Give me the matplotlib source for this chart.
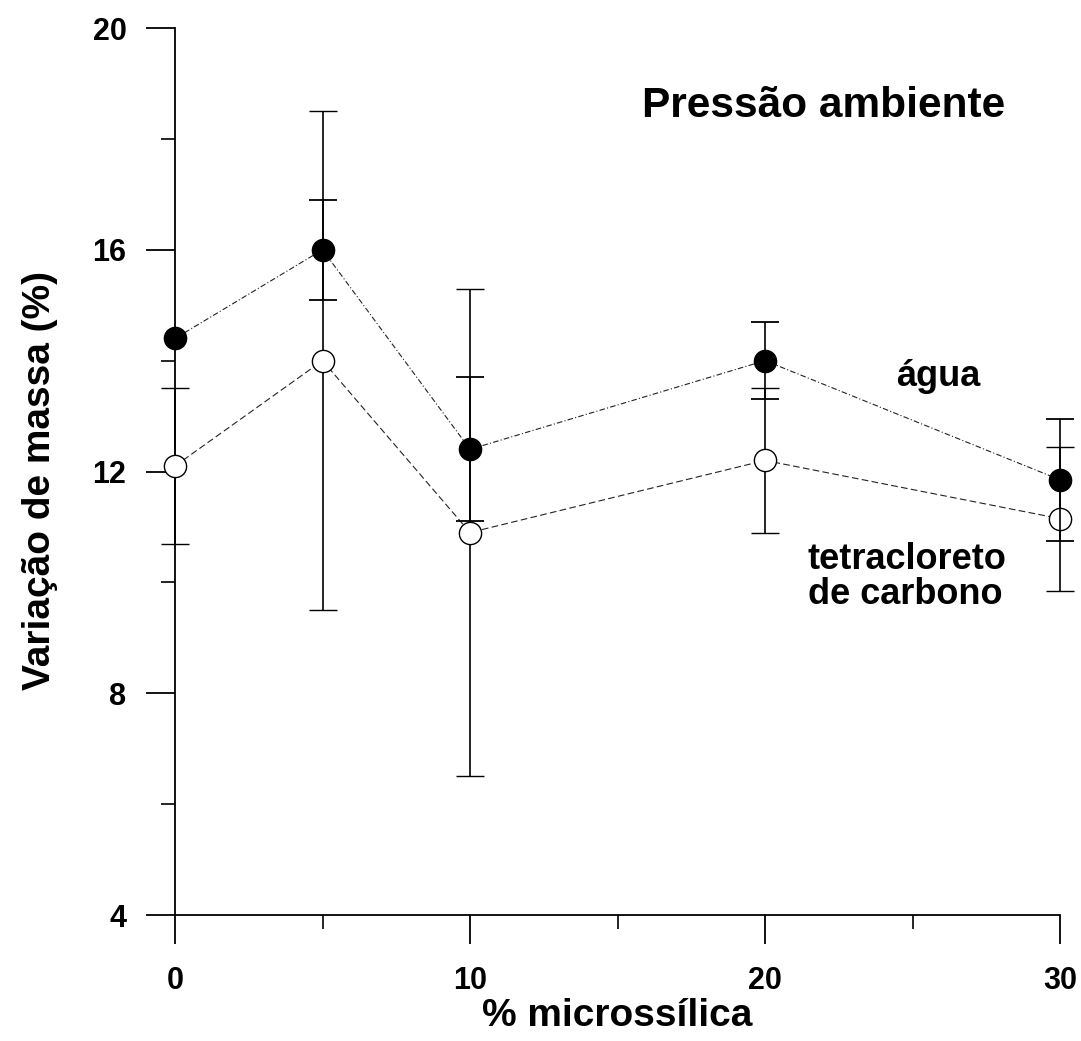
import matplotlib
matplotlib.use("Agg")
import matplotlib.pyplot as plt
import numpy as np

# Data
#---------------------------
microssilica = [0, 5, 10, 20, 30]           # % microssílica
agua = [14.4, 16.0, 12.4, 14.0, 11.85]      # filled circles
agua_err = [np.nan, 0.9, 1.3, 0.7, 1.1]
tetra = [12.1, 14.0, 10.9, 12.2, 11.15]     # open circles (tetracloreto de carbono)
tetra_err = [1.4, 4.5, 4.4, 1.3, 1.3]

x_major = [0, 10, 20, 30]
x_minor = [5, 15, 25]
y_major = [4, 8, 12, 16, 20]
y_minor = [6, 10, 14, 18]

plt.rcParams['font.family'] = ['Liberation Sans', 'DejaVu Sans']
plt.rcParams['font.weight'] = 'bold'

fig = plt.figure(figsize=(10.81, 10.41), dpi=100)
ax = fig.add_axes([0.1619, 0.1210, 0.8187, 0.8521])

# Series
#---------------------------
ax.errorbar(microssilica, tetra, yerr=tetra_err, fmt='o', ms=16, mfc='white', mec='black',
            mew=1.0, ecolor='black', elinewidth=1.2, capsize=10, capthick=1.3,
            ls=(0, (6, 3)), lw=0.8, color='#222222', clip_on=False, zorder=3)
ax.errorbar(microssilica, agua, yerr=agua_err, fmt='o', ms=16, mfc='black', mec='black',
            ecolor='black', elinewidth=1.2, capsize=10, capthick=1.3,
            ls=(0, (5, 2, 1, 2)), lw=0.8, color='#222222', clip_on=False, zorder=4)

# Axes
#---------------------------
ax.set_xlim(0, 30)
ax.set_ylim(4, 20)
ax.spines['top'].set_visible(False)
ax.spines['right'].set_visible(False)
for s in ['left', 'bottom']:
    ax.spines[s].set_linewidth(1.3)

ax.set_xticks(x_major)
ax.set_xticks(x_minor, minor=True)
ax.set_yticks(y_major)
ax.set_yticks(y_minor, minor=True)
ax.tick_params(which='major', length=21, width=1.3, labelsize=22)
ax.tick_params(which='minor', length=10, width=1.2)
ax.tick_params(axis='x', which='major', pad=16)
ax.tick_params(axis='y', which='major', pad=14)
for lab in ax.get_xticklabels() + ax.get_yticklabels():
    lab.set_fontweight('bold')

ax.set_xlabel('% microssílica', fontsize=28, fontweight='bold', labelpad=1)
ax.set_ylabel('Variação de massa (%)', fontsize=28, fontweight='bold')
ax.yaxis.set_label_coords(-0.132, 0.49)

# Labels inside the plot (data coordinates)
#---------------------------
ax.text(28.15, 18.6, 'Pressão ambiente', fontsize=30.5, fontweight='bold',
        ha='right', va='center')
ax.text(24.45, 13.72, 'água', fontsize=26, fontweight='bold', ha='left', va='center')
ax.text(21.45, 10.72, 'tetracloreto\nde carbono', fontsize=26, fontweight='bold',
        ha='left', va='top', linespacing=1.0)

fig.savefig('out.png', dpi=100)
